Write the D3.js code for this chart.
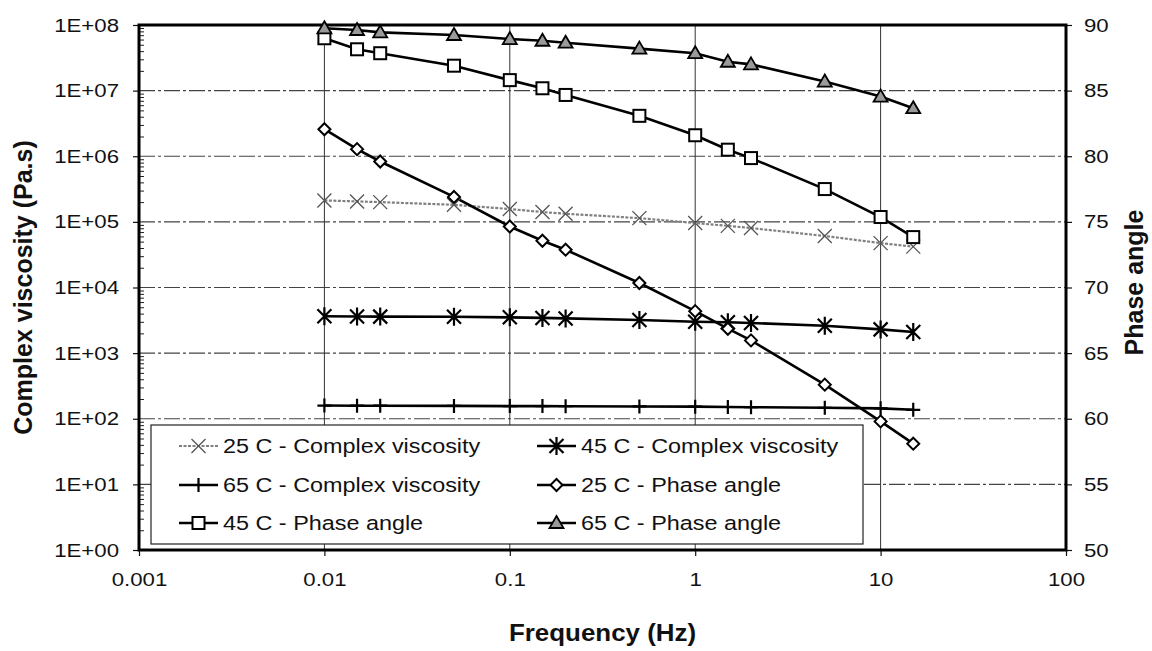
<!DOCTYPE html>
<html><head><meta charset="utf-8">
<script src="https://cdn.jsdelivr.net/npm/d3@7"></script>
<style>html,body{margin:0;padding:0;background:#fff;}svg{display:block;font-family:"Liberation Sans",Arial,sans-serif;}</style>
</head><body>
<svg id="chart" width="1152" height="651"></svg>
<script>
// ---- data ----
const freq = [0.01,0.015,0.02,0.05,0.1,0.15,0.2,0.5,1,1.5,2,5,10,15];
const visc25 = [2.12e5,2.05e5,2.0e5,1.82e5,1.57e5,1.41e5,1.33e5,1.14e5,9.6e4,8.7e4,8.05e4,6.1e4,4.75e4,4.2e4];
const visc45 = [3650,3620,3600,3580,3510,3440,3380,3200,3000,2950,2880,2620,2300,2100];
const visc65 = [159,158,158,157,156,156,155,154,153,151,150,147,144,137];
const phase25 = [82.06,80.54,79.6,76.9,74.65,73.56,72.88,70.34,68.2,66.86,65.97,62.6,59.8,58.1];
const phase45 = [88.99,88.15,87.85,86.9,85.8,85.18,84.67,83.08,81.6,80.5,79.86,77.5,75.37,73.84];
const phase65 = [89.75,89.62,89.44,89.24,88.93,88.8,88.65,88.2,87.85,87.2,87.0,85.69,84.55,83.66];
const yLeftTicks = [1,1e1,1e2,1e3,1e4,1e5,1e6,1e7,1e8];
const yLeftLabels = ["1E+00","1E+01","1E+02","1E+03","1E+04","1E+05","1E+06","1E+07","1E+08"];
const xTicks = [0.001,0.01,0.1,1,10,100];
const xLabels = ["0.001","0.01","0.1","1","10","100"];
const yRightTicks = [50,55,60,65,70,75,80,85,90];
const seriesNames = ["25 C - Complex viscosity","45 C - Complex viscosity","65 C - Complex viscosity","25 C - Phase angle","45 C - Phase angle","65 C - Phase angle"];
const xTitle = "Frequency (Hz)", yLeftTitle = "Complex viscosity (Pa.s)", yRightTitle = "Phase angle";

// ---- layout ----
const L = 139, R = 1066, T = 25, B = 550;
const svg = d3.select("#chart");
svg.append("rect").attr("width",1152).attr("height",651).attr("fill","#fff");
const x = d3.scaleLog().domain([0.001,100]).range([L,R]);
const yL = d3.scaleLog().domain([1,1e8]).range([B,T]);
const yR = d3.scaleLinear().domain([50,90]).range([B,T]);

// gridlines
const grid = svg.append("g");
grid.selectAll("line.h").data(yLeftTicks.slice(1,-1)).join("line")
  .attr("x1",L).attr("x2",R).attr("y1",d=>yL(d)).attr("y2",d=>yL(d))
  .attr("stroke","#444").attr("stroke-width",1.2).attr("stroke-dasharray","16,3,3,3");
grid.selectAll("line.v").data(xTicks.slice(1,-1)).join("line")
  .attr("y1",T).attr("y2",B).attr("x1",d=>x(d)).attr("x2",d=>x(d))
  .attr("stroke","#333").attr("stroke-width",1);

// axes
function stretchTexts(sel, sx){
  sel.selectAll("text").each(function(){
    const t = d3.select(this);
    const tx = +t.attr("x")||0, ty = +t.attr("y")||0;
    t.attr("x",0).attr("y",0).attr("transform",`translate(${tx},${ty}) scale(${sx},1)`);
  });
}
const axL = svg.append("g").attr("transform",`translate(${L},0)`)
  .call(d3.axisLeft(yL).tickValues(yLeftTicks).tickSize(6).tickSizeOuter(0).tickPadding(14)
    .tickFormat((d,i)=>yLeftLabels[i]));
// minor ticks left
const minors = [];
for (let e=0;e<8;e++) for (let m=2;m<=9;m++) minors.push(m*Math.pow(10,e));
svg.append("g").attr("transform",`translate(${L},0)`)
  .call(d3.axisLeft(yL).tickValues(minors).tickSize(-5).tickSizeOuter(0).tickFormat(""))
  .call(g=>g.select(".domain").remove()).selectAll("line").attr("stroke","#222").attr("stroke-width",1);

const axB = svg.append("g").attr("transform",`translate(0,${B})`)
  .call(d3.axisBottom(x).tickValues(xTicks).tickSize(6).tickSizeOuter(0).tickPadding(17)
    .tickFormat((d,i)=>xLabels[i]));
const axR = svg.append("g").attr("transform",`translate(${R},0)`)
  .call(d3.axisRight(yR).tickValues(yRightTicks).tickSize(6).tickSizeOuter(0).tickPadding(12));
[axL,axB,axR].forEach(a=>{
  a.select(".domain").remove();
  a.selectAll("line").attr("stroke","#111").attr("stroke-width",1.2);
  a.selectAll("text").attr("font-size",19).attr("fill","#111").attr("font-family",'"Liberation Sans",Arial,sans-serif');
  stretchTexts(a,1.17);
});

// plot border
svg.append("rect").attr("x",L).attr("y",T).attr("width",R-L).attr("height",B-T)
  .attr("fill","none").attr("stroke","#000").attr("stroke-width",3);

// titles
svg.append("text").text(xTitle).attr("font-size",24).attr("font-weight","bold").attr("text-anchor","middle")
  .attr("transform",`translate(${(L+R)/2},641) scale(1.08,1)`).attr("fill","#111");
svg.append("text").text(yLeftTitle).attr("font-size",25).attr("font-weight","bold").attr("text-anchor","middle")
  .attr("transform",`translate(32,${(T+B)/2}) rotate(-90)`).attr("fill","#111");
svg.append("text").text(yRightTitle).attr("font-size",25).attr("font-weight","bold").attr("text-anchor","middle")
  .attr("transform",`translate(1143,${(T+B)/2-5}) rotate(-90)`).attr("fill","#111");

// markers
const markers = {
  xmark: g=>g.append("path").attr("d","M-7,-7L7,7M-7,7L7,-7").attr("stroke","#555").attr("stroke-width",1.3).attr("fill","none"),
  star: g=>g.append("path").attr("d","M-7,-7L7,7M-7,7L7,-7M0,-9L0,9").attr("stroke","#000").attr("stroke-width",2.2).attr("fill","none"),
  plus: g=>g.append("path").attr("d","M0,-7L0,7M-7,0L7,0").attr("stroke","#000").attr("stroke-width",2.2).attr("fill","none"),
  diamond: g=>g.append("path").attr("d","M0,-6L6,0L0,6L-6,0Z").attr("stroke","#000").attr("stroke-width",2).attr("fill","#fff"),
  square: g=>g.append("rect").attr("x",-6).attr("y",-6).attr("width",12).attr("height",12).attr("stroke","#000").attr("stroke-width",2).attr("fill","#fff"),
  triangle: g=>g.append("path").attr("d","M0,-7L7,5L-7,5Z").attr("stroke","#000").attr("stroke-width",1.8).attr("fill","#9a9a9a")
};
const series = [
  {vals:visc25, y:yL, marker:"xmark", color:"#808080", width:2.2, dash:"3,1.5"},
  {vals:visc45, y:yL, marker:"star", color:"#000", width:2.6, dash:null},
  {vals:visc65, y:yL, marker:"plus", color:"#000", width:2.6, dash:null},
  {vals:phase25, y:yR, marker:"diamond", color:"#000", width:2.6, dash:null},
  {vals:phase45, y:yR, marker:"square", color:"#000", width:2.6, dash:null},
  {vals:phase65, y:yR, marker:"triangle", color:"#000", width:2.6, dash:null}
];
const plot = svg.append("g");
series.forEach(s=>{
  const pts = freq.map((f,i)=>[f,s.vals[i]]);
  plot.append("path").datum(pts)
    .attr("d",d3.line().x(d=>x(d[0])).y(d=>s.y(d[1])))
    .attr("fill","none").attr("stroke",s.color).attr("stroke-width",s.width)
    .attr("stroke-dasharray",s.dash);
});
series.forEach(s=>{
  freq.forEach((f,i)=>{
    const g = plot.append("g").attr("transform",`translate(${x(f)},${s.y(s.vals[i])})`);
    markers[s.marker](g);
  });
});

// legend
const lg = svg.append("g");
lg.append("rect").attr("x",151).attr("y",425).attr("width",712).attr("height",119)
  .attr("fill","#fff").attr("stroke","#222").attr("stroke-width",1.2);
const colX = [179,537], rowY = [446,485,523];
series.forEach((s,i)=>{
  const cx = colX[i%2], cy = rowY[Math.floor(i/2)];
  lg.append("line").attr("x1",cx).attr("x2",cx+39).attr("y1",cy).attr("y2",cy)
    .attr("stroke",s.color).attr("stroke-width",s.width).attr("stroke-dasharray",s.dash);
  const g = lg.append("g").attr("transform",`translate(${cx+19.5},${cy})`);
  markers[s.marker](g);
  lg.append("text").text(seriesNames[i]).attr("font-size",19.5).attr("fill","#111")
    .attr("transform",`translate(${cx+44},${cy+7}) scale(1.2,1)`);
});
</script>
</body></html>
